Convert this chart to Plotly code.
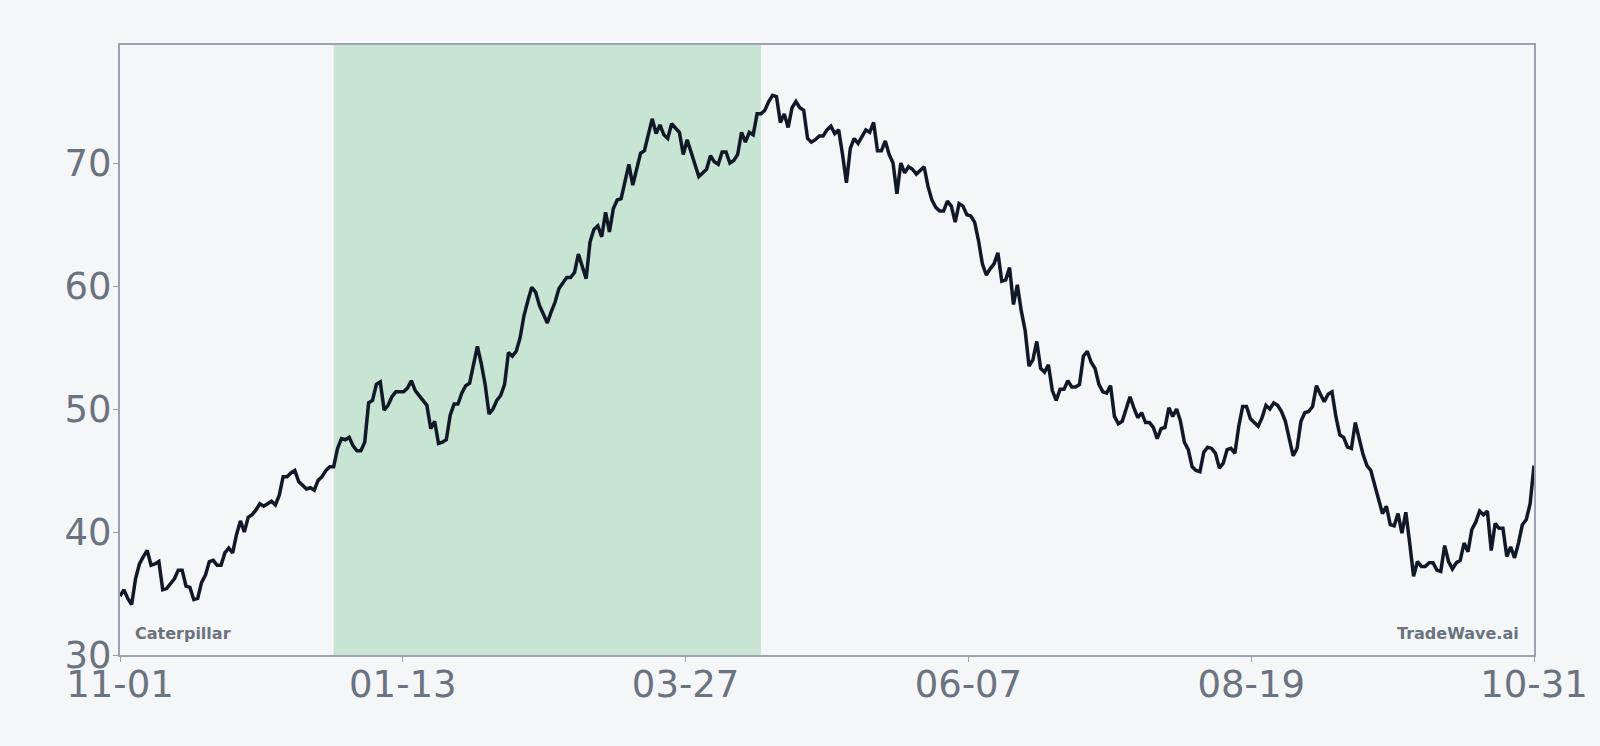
import plotly.graph_objects as go

# Daily closing values, day 0 = 11-01 ... day 364 = 10-31
values = [
    34.8, 35.3, 34.6, 34.1, 36.2, 37.4, 38.0, 38.5, 37.3, 37.4,
    37.6, 35.3, 35.4, 35.8, 36.2, 36.9, 36.9, 35.6, 35.5, 34.5,
    34.6, 35.9, 36.5, 37.6, 37.7, 37.3, 37.3, 38.3, 38.7, 38.3,
    39.8, 40.9, 40.0, 41.2, 41.4, 41.8, 42.3, 42.1, 42.3, 42.5,
    42.2, 43.0, 44.5, 44.5, 44.8, 45.0, 44.1, 43.8, 43.5, 43.6,
    43.4, 44.2, 44.5, 45.0, 45.3, 45.3, 46.8, 47.6, 47.5, 47.7,
    47.0, 46.6, 46.6, 47.3, 50.5, 50.7, 52.0, 52.2, 49.9, 50.3,
    51.0, 51.4, 51.4, 51.4, 51.7, 52.3, 51.5, 51.1, 50.7, 50.3,
    48.4, 49.0, 47.2, 47.3, 47.5, 49.5, 50.4, 50.4, 51.3, 51.9,
    52.1, 53.7, 55.1, 53.7, 52.0, 49.6, 50.0, 50.7, 51.1, 52.0,
    54.6, 54.3, 54.7, 55.8, 57.6, 58.8, 59.9, 59.5, 58.4, 57.7,
    57.0, 57.9, 58.7, 59.8, 60.2, 60.7, 60.7, 61.1, 62.6, 61.6,
    60.6, 63.6, 64.6, 64.9, 64.0, 66.0, 64.4, 66.3, 67.0, 67.1,
    68.5, 69.9, 68.2, 69.6, 70.8, 71.0, 72.3, 73.6, 72.4, 73.1,
    72.3, 72.0, 73.2, 72.8, 72.5, 70.7, 71.9, 70.9, 70.0, 68.9,
    69.2, 69.5, 70.6, 70.1, 69.9, 70.9, 70.9, 70.0, 70.2, 70.7,
    72.5, 71.7, 72.5, 72.3, 74.0, 74.0, 74.3, 75.0, 75.5, 75.4,
    73.3, 74.0, 72.9, 74.5, 75.0, 74.5, 74.3, 72.0, 71.7, 71.9,
    72.2, 72.2, 72.7, 73.0, 72.4, 72.7, 70.7, 68.4, 71.2, 72.0,
    71.6, 72.1, 72.7, 72.5, 73.3, 71.0, 71.0, 71.8, 70.7, 70.0,
    67.5, 70.0, 69.2, 69.7, 69.5, 69.1, 69.4, 69.7, 68.1, 67.0,
    66.4, 66.1, 66.1, 66.9, 66.5, 65.2, 66.7, 66.5, 65.8, 65.7,
    65.2, 63.7, 61.8, 60.9, 61.4, 61.8, 62.7, 60.4, 60.5, 61.5,
    58.5, 60.1, 58.0, 56.4, 53.5, 54.0, 55.5, 53.3, 53.0, 53.6,
    51.5, 50.7, 51.6, 51.6, 52.3, 51.8, 51.8, 52.0, 54.3, 54.7,
    53.8, 53.3, 52.0, 51.4, 51.3, 51.9, 49.4, 48.8, 49.0, 49.9,
    51.0, 50.1, 49.3, 49.7, 48.9, 48.9, 48.5, 47.6, 48.4, 48.5,
    50.1, 49.4, 50.0, 49.0, 47.3, 46.7, 45.3, 45.0, 44.9, 46.5,
    46.9, 46.8, 46.4, 45.2, 45.6, 46.7, 46.8, 46.4, 48.6, 50.2,
    50.2, 49.2, 48.9, 48.6, 49.3, 50.3, 50.0, 50.5, 50.3, 49.8,
    49.0, 47.6, 46.2, 46.8, 49.0, 49.7, 49.8, 50.2, 51.9, 51.2,
    50.6, 51.2, 51.4, 49.4, 47.9, 47.7, 46.9, 46.8, 48.9, 47.6,
    46.3, 45.4, 45.0, 43.8, 42.7, 41.5, 42.1, 40.6, 40.5, 41.5,
    39.9, 41.6, 39.1, 36.4, 37.6, 37.2, 37.2, 37.5, 37.5, 36.9,
    36.8, 38.9, 37.6, 37.0, 37.5, 37.7, 39.1, 38.4, 40.2, 40.8,
    41.7, 41.4, 41.7, 38.5, 40.7, 40.3, 40.3, 38.0, 38.8, 37.9,
    39.1, 40.6, 41.0, 42.3, 45.4,
]
days = list(range(len(values)))

tick_labels = ["11-01", "01-13", "03-27", "06-07", "08-19", "10-31"]
y_ticks = [30, 40, 50, 60, 70]
highlight_start, highlight_end = 55, 165  # day offsets of shaded window
company = "Caterpillar"
brand = "TradeWave.ai"

last_day = days[-1]
tick_positions = [last_day * i / (len(tick_labels) - 1) for i in range(len(tick_labels))]

BG = "#f4f6f8"
GRAY = "#6b7280"
FRAME = "#9ca3af"

fig = go.Figure()
fig.add_trace(go.Scatter(
    x=days, y=values, mode="lines",
    line=dict(color="#111827", width=3.5),
    hoverinfo="skip", showlegend=False,
))

fig.add_vrect(x0=highlight_start, x1=highlight_end, fillcolor="#c8e5d4",
              opacity=1, line_width=0, layer="below")

fig.add_annotation(x=0, y=0, xref="paper", yref="paper", text=f"<b>{company}</b>",
                   showarrow=False, xanchor="left", yanchor="bottom", xshift=13, yshift=10,
                   font=dict(family="DejaVu Sans", size=16, color=GRAY))
fig.add_annotation(x=1, y=0, xref="paper", yref="paper", text=f"<b>{brand}</b>",
                   showarrow=False, xanchor="right", yanchor="bottom", xshift=-13, yshift=10,
                   font=dict(family="DejaVu Sans", size=16, color=GRAY))

fig.update_layout(
    width=1600, height=746,
    margin=dict(l=120, r=64, t=45, b=91),
    paper_bgcolor=BG, plot_bgcolor=BG,
    font=dict(family="DejaVu Sans", color=GRAY),
)
fig.update_xaxes(
    range=[0, last_day], tickvals=tick_positions, ticktext=tick_labels,
    showgrid=False, zeroline=False,
    showline=True, linecolor=FRAME, linewidth=2, mirror=True,
    ticks="outside", ticklen=5, tickcolor=FRAME, tickwidth=1,
    tickfont=dict(size=37, color=GRAY), ticklabelstandoff=-9,
)
fig.update_yaxes(
    range=[30, 79.6], tickvals=y_ticks,
    showgrid=False, zeroline=False,
    showline=True, linecolor=FRAME, linewidth=2, mirror=True,
    ticks="outside", ticklen=5, tickcolor=FRAME, tickwidth=1,
    tickfont=dict(size=37, color=GRAY), ticklabelstandoff=-6,
)

fig.write_html(
    "out.html",
    config={"displayModeBar": False},
    post_script="document.body.style.margin='0';document.body.style.background='#f4f6f8';",
)
